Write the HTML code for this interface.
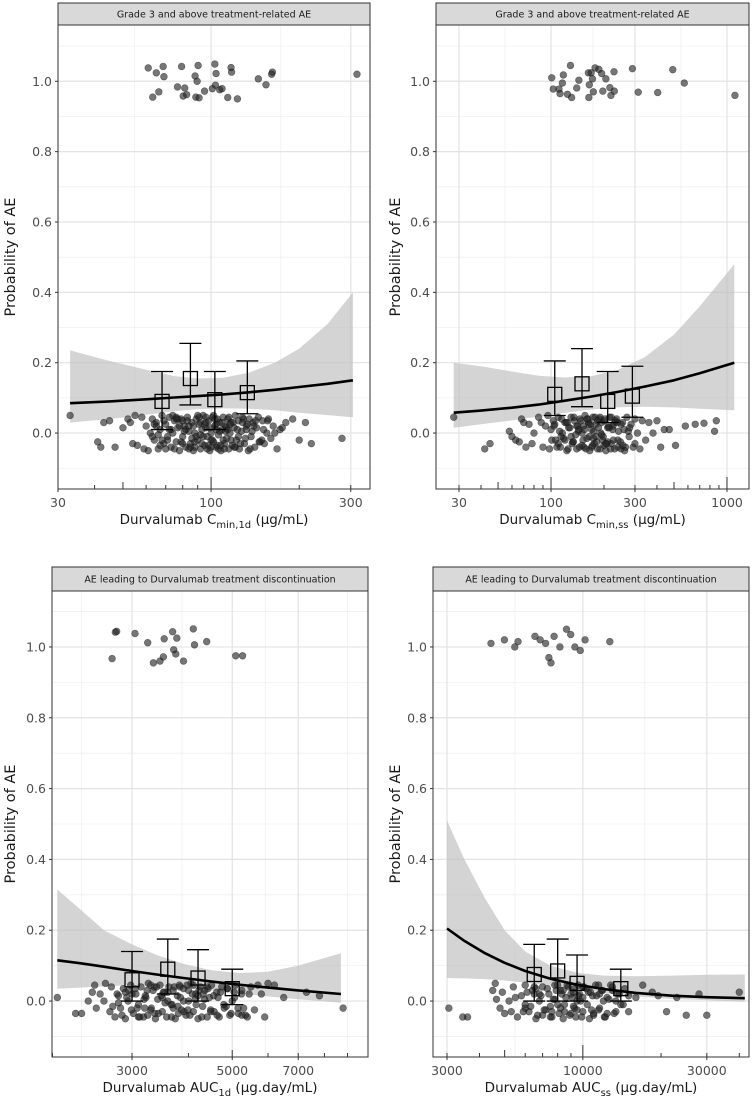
<!DOCTYPE html>
<html><head><meta charset="utf-8"><style>
html,body{margin:0;padding:0;background:#fff}
svg{display:block;font-family:"DejaVu Sans","Liberation Sans",sans-serif}
</style></head><body>
<svg id="c" width="752" height="1098" viewBox="0 0 752 1098"></svg>
<script>
// ---------- data ----------
// Panel A: Grade 3+ AE vs Cmin,1d
const aEvX=[61,65,68.6,69,79.3,76.8,81.3,63.2,66.3,80.3,82.5,88.7,91,88.2,89.6,90.3,95,101,103,104,103.5,107,109,114,117,117.5,123,145,154,162,161,315];
const aEvY=[1.038,1.024,1.042,1.013,1.042,0.984,0.981,0.955,0.97,0.958,0.962,0.955,0.953,1.015,1.0,1.045,0.972,0.979,1.049,1.022,0.989,0.976,0.979,0.954,1.039,1.026,0.95,1.007,0.99,1.026,1.02,1.02];
const aNoX=[33,41,42,43,45,47,50,52,53,54,55,56,58,59,60,61,62,63,64,65,66,67,68,69,70,71,72,73,74,75,76,77,78,79,80,81,82,83,84,85,86,87,88,89,90,91,92,93,94,95,96,97,98,99,100,101,102,103,104,105,106,107,108,109,110,111,112,113,114,115,116,117,118,120,121,122,124,125,127,128,130,132,134,135,137,139,141,143,145,147,150,152,155,157,160,163,168,172,180,190,200,210,220,280,70,74,78,82,86,90,94,98,102,106,110,114,80,88,96,104,92,84,76,100,
 63,65,67,69,71,73,75,77,79,81,83,85,87,89,91,93,95,97,99,101,103,105,107,109,111,113,115,117,119,121,123,126,129,131,133,136,138,142,146,151,
 64,66,68,72,76,80,84,88,92,96,100,104,108,112,116,120,124,128,132,140,149,156,165,175];
const aNoY=[.05,-.025,-.04,.03,.035,-.04,.015,.04,.03,-.03,.05,-.035,.045,-.045,.02,-.05,0,.04,-.02,.03,-.045,.01,.05,-.03,.025,-.01,.045,-.04,0,.035,-.025,.015,-.05,.04,-.01,.02,-.04,.045,.005,-.03,.03,-.05,0,.04,-.02,.025,-.045,.01,.05,-.035,.015,-.01,.035,-.05,0,.045,-.025,.02,-.04,.04,-.005,.03,-.05,.01,.045,-.03,.02,-.015,.04,-.045,0,.03,-.035,.015,.05,-.02,.035,-.045,.005,.045,-.03,.02,-.05,.04,-.01,.03,-.04,.015,.045,-.025,.035,-.03,0,.04,-.015,.02,-.045,.01,.03,.04,-.02,.03,-.03,-.015,-.045,.05,.02,.01,-.015,.05,-.01,-.035,.05,-.045,-.02,.01,.035,-.04,.045,.025,.03,-.045,.045,-.02,
 -.01,.02,-.035,.035,-.02,.01,-.045,.04,-.025,.005,.035,-.04,.02,-.01,.045,-.03,.025,-.045,.015,-.02,.04,-.035,.005,.03,-.045,.015,.045,-.02,.03,-.04,.01,-.03,.04,-.015,.025,-.045,.005,.035,-.025,.01,
 .025,-.005,-.02,.01,.04,-.03,.02,-.025,-.005,.03,-.04,.01,-.035,.005,.025,-.04,-.01,.03,.01,.02,-.02,.035,.0,.015];
const aFitX=[33,45,60,75,90,110,135,165,200,250,305];
const aFit=[0.085,0.090,0.096,0.101,0.105,0.110,0.116,0.123,0.131,0.140,0.150];
const aLo=[0.03,0.04,0.052,0.062,0.068,0.07,0.069,0.065,0.058,0.051,0.045];
const aHi=[0.235,0.205,0.18,0.162,0.155,0.157,0.172,0.2,0.24,0.31,0.40];
const aBinX=[68,85,103,133];
const aBinM=[0.09,0.155,0.095,0.115];
const aBinLo=[0.01,0.08,0.01,0.055];
const aBinHi=[0.175,0.255,0.175,0.205];

// Panel B: Grade 3+ AE vs Cmin,ss
const bEvX=[100.9,103,111,112.5,116,117.5,124,129,131,140,144,163,165,169,172,164,174,178,187,194,197,205,216,219,229,228,290,313,404,492,572,1110];
const bEvY=[1.01,0.978,0.978,0.965,0.995,1.018,0.963,1.045,0.954,0.981,1.003,1.024,0.99,1.024,1.007,0.954,0.97,1.038,1.034,1.022,0.972,1.007,0.982,0.96,0.972,1.027,1.036,0.969,0.968,1.033,0.995,0.96];
const bNoX=[28,42,45,58,60,63,66,68,70,72,75,78,80,85,88,90,93,96,98,100,103,106,110,113,116,120,123,126,130,133,136,140,143,146,150,153,156,160,163,166,170,173,176,180,184,188,192,196,200,205,210,215,220,225,230,236,242,248,255,262,270,278,285,293,300,310,320,330,345,360,380,400,420,440,470,510,580,660,740,850,870,120,140,160,180,200,220,240,260,150,170,190,210,230,250,130,110,
 101,105,108,112,115,118,122,125,128,132,135,138,142,145,148,152,155,158,162,165,168,172,175,178,182,186,190,194,198,202,207,212,218,224,232,240,250,265,280,300,
 104,114,124,134,144,154,164,174,184,194,204,214,226,238,256,275];
const bNoY=[.045,-.045,-.03,.005,-.01,-.02,-.025,.04,.03,-.04,.025,-.03,0,.045,.03,-.04,.02,.05,-.045,.01,.035,-.02,.045,-.04,0,.03,-.05,.015,.045,-.025,.035,-.045,.005,.04,-.035,.02,.05,-.015,.03,-.05,.01,.045,-.03,.025,-.045,.04,0,-.02,.035,-.05,.015,.045,-.03,.02,-.045,.04,.005,-.025,.03,-.05,.045,-.01,.025,-.04,.04,0,-.045,.035,-.02,.03,0,.035,-.04,.01,.01,-.035,.02,.025,.028,.005,.035,-.02,.02,.04,-.01,-.035,.045,-.04,.01,0,-.04,.045,-.025,.03,-.045,-.01,-.03,
 -.02,.025,-.04,.005,.04,-.015,.03,-.045,.015,-.03,.045,-.005,.02,-.04,.035,-.02,.01,-.045,.04,-.01,.025,-.035,.005,.045,-.025,.015,-.045,.03,-.01,.04,-.03,.02,-.045,.01,.035,-.02,.025,-.04,.015,-.03,
 .02,-.01,.03,-.025,.01,-.04,.025,-.015,.035,-.005,-.03,.015,-.02,.03,-.035,.005];
const bFitX=[28,40,60,85,120,170,240,340,500,700,1100];
const bFit=[0.058,0.064,0.072,0.081,0.092,0.104,0.117,0.132,0.15,0.17,0.20];
const bLo=[0.015,0.025,0.036,0.047,0.058,0.067,0.073,0.075,0.073,0.069,0.065];
const bHi=[0.20,0.19,0.175,0.163,0.158,0.162,0.18,0.215,0.28,0.36,0.48];
const bBinX=[105,150,210,290];
const bBinM=[0.11,0.14,0.09,0.105];
const bBinLo=[0.05,0.075,0.03,0.045];
const bBinHi=[0.205,0.24,0.175,0.19];

// Panel C: discontinuation AE vs AUC1d
const cEvX=[2774,2755,3046,3250,3535,3690,3770,4100,4125,4390,3710,3750,2710,3345,3460,3520,3900,5090,5270];
const cEvY=[1.044,1.042,1.038,1.012,1.023,1.043,1.025,1.051,1.006,1.015,0.992,0.98,0.967,0.955,0.96,0.972,0.96,0.975,0.975];
const cNoX=[2050,2250,2320,2400,2450,2480,2500,2550,2600,2620,2680,2700,2750,2800,2830,2870,2900,2940,2980,3020,3060,3100,3140,3180,3220,3260,3300,3340,3380,3420,3460,3500,3540,3580,3620,3660,3700,3740,3780,3820,3860,3900,3950,4000,4050,4100,4150,4200,4250,4300,4350,4400,4450,4500,4560,4620,4680,4740,4800,4870,4940,5000,5080,5160,5240,5300,5400,5500,5600,5700,5800,5900,6000,6200,6500,7300,7800,8800,3000,3200,3400,3600,3800,4000,4200,4400,3100,3300,3500,3700,3900,4100,2900,3250,
 2720,2780,2850,2920,2990,3050,3120,3190,3240,3310,3360,3430,3480,3550,3600,3670,3720,3790,3840,3910,3970,4030,4080,4160,4220,4280,4340,4420,4480,4550,4630,4710,4790,4880,4970,5060,5150,5250,5350,5450,
 2800,2950,3080,3210,3370,3520,3680,3830,3990,4140,4310,4480,4650,4850,5050,5250];
const cNoY=[.01,-.035,-.035,0,.025,.045,-.02,.02,0,.05,-.03,.04,-.045,.015,-.02,.035,-.05,0,.045,-.035,.02,-.01,.04,-.045,.01,.05,-.025,.03,-.05,.005,.045,-.03,.025,-.045,.04,-.01,.03,-.05,.015,.045,-.025,.035,-.04,0,.05,-.03,.02,-.05,.04,-.015,.03,-.045,.01,.045,-.03,.025,-.045,.04,-.02,.035,-.04,0,.045,-.035,.02,-.02,-.045,.04,-.025,.045,.02,-.045,.05,.045,.01,.025,.015,-.02,.02,-.02,.04,0,-.035,.03,.015,.04,-.045,.045,.01,-.02,0,.045,.025,-.04,
 -.015,.02,-.04,.01,-.025,.035,-.045,.005,.03,-.02,.04,-.035,.015,-.005,.025,-.045,.04,-.015,.01,-.03,.045,-.04,.02,-.01,.03,-.045,.005,.035,-.025,.015,-.04,.025,-.01,.035,-.035,.01,-.02,.03,-.04,.02,
 -.005,.03,-.02,.015,-.035,.025,-.01,.04,-.025,.005,.02,-.03,.01,-.015,.025,-.04];
const cFitX=[2050,2300,2600,3000,3400,3900,4500,5200,6000,7000,8700];
const cFit=[0.115,0.107,0.097,0.085,0.075,0.065,0.055,0.046,0.038,0.030,0.02];
const cLo=[0.035,0.038,0.042,0.045,0.043,0.037,0.03,0.021,0.013,0.005,-0.005];
const cHi=[0.315,0.26,0.2,0.16,0.13,0.105,0.087,0.079,0.083,0.1,0.135];
const cBinX=[3000,3600,4200,5000];
const cBinM=[0.06,0.09,0.065,0.035];
const cBinLo=[0.0,0.02,0.0,-0.01];
const cBinHi=[0.14,0.175,0.145,0.09];

// Panel D: discontinuation AE vs AUCss
const dEvX=[4430,4990,5470,5630,6540,6850,7190,7400,7540,7750,8160,8650,8980,9320,9770,10200,12700];
const dEvY=[1.01,1.02,1.0,1.015,1.03,1.02,1.01,0.97,0.955,1.03,1.0,1.05,1.035,1.0,0.99,1.02,1.015];
const dNoX=[3050,3450,3600,4500,4600,4650,4800,4900,5000,5200,5400,5600,5800,6000,6200,6400,6600,6800,7000,7200,7400,7600,7800,8000,8200,8400,8600,8800,9000,9200,9400,9600,9800,10000,10300,10600,10900,11200,11500,11800,12100,12400,12800,13200,13600,14000,14500,15000,16000,17000,18500,19500,21000,23000,25000,28000,30000,40000,7000,8000,9000,10000,11000,12000,6500,7500,8500,9500,10500,11500,6000,13000,7800,9300,
 5500,5900,6100,6300,6500,6700,6900,7100,7300,7500,7700,7900,8100,8300,8500,8700,8900,9100,9300,9500,9700,9900,10100,10400,10700,11000,11300,11600,11900,12200,12600,13000,13400,13800,14300,15000,5300,6600,8200,9600,
 6000,6800,7600,8400,9200,10000,10800,11600,12400,13400];
const dNoY=[-.02,-.045,-.045,.03,.05,.005,-.02,.025,-.035,0,.04,-.045,.015,.045,-.03,.03,-.05,0,.04,-.025,.02,-.045,.045,-.01,.03,-.05,.01,.04,-.035,.025,-.045,.045,0,-.03,.035,-.05,.015,.045,-.025,.03,-.045,.01,.045,-.035,.02,-.01,.035,-.03,.01,.045,.025,.015,-.03,.01,-.04,.02,-.04,.025,-.04,.045,.02,.04,-.04,0,.02,-.015,-.03,0,.025,.045,-.02,.03,.005,-.02,
 .01,-.03,.025,-.015,.04,-.04,.015,-.025,.035,-.045,.005,.03,-.035,.02,-.01,.045,-.04,.01,.035,-.025,.02,-.045,.04,-.01,.025,-.035,.015,-.02,.03,-.045,.005,.04,-.03,.02,-.01,.015,-.03,.035,-.02,.015,
 -.01,.02,-.03,.03,-.015,.01,-.025,.02,-.035,.0];
const dFitX=[3000,3500,4200,5000,6000,7500,9500,12000,16000,22000,30000,42000];
const dFit=[0.205,0.17,0.135,0.108,0.085,0.063,0.046,0.034,0.023,0.015,0.011,0.008];
const dLo=[0.065,0.064,0.062,0.058,0.052,0.043,0.033,0.023,0.013,0.006,0.002,-0.002];
const dHi=[0.51,0.40,0.29,0.2,0.14,0.1,0.08,0.072,0.07,0.072,0.074,0.075];
const dBinX=[6500,8000,9500,14000];
const dBinM=[0.075,0.085,0.05,0.035];
const dBinLo=[0.0,0.0,0.0,0.0];
const dBinHi=[0.16,0.175,0.13,0.09];

const yTicks=[0,0.2,0.4,0.6,0.8,1.0];
const yTickLabels=["0.0","0.2","0.4","0.6","0.8","1.0"];
const yMinor=[-0.1,0.1,0.3,0.5,0.7,0.9,1.1];
const aBreaks=[30,100,300], aLabels=["30","100","300"], aMinor=[54.8,173];
const bBreaks=[30,100,300,1000], bLabels=["30","100","300","1000"], bMinor=[54.8,173,548];
const cBreaks=[3000,5000,7000], cLabels=["3000","5000","7000"], cMinor=[2320,3870,5920,9000];
const dBreaks=[3000,10000,30000], dLabels=["3000","10000","30000"], dMinor=[1643,5477,17320];

// ---------- drawing ----------
const NS="http://www.w3.org/2000/svg";
const svg=document.getElementById('c');
function el(tag,attrs,parent){const e=document.createElementNS(NS,tag);for(const k in attrs)e.setAttribute(k,attrs[k]);(parent||svg).appendChild(e);return e;}

function panel(p){
  const g=el('g',{});
  
  
  const lx0=Math.log10(p.xmin),lx1=Math.log10(p.xmax);
  const X=v=>p.x0+(Math.log10(v)-lx0)/(lx1-lx0)*(p.x1-p.x0);
  const Y=v=>p.y1-(v-p.ymin)/(p.ymax-p.ymin)*(p.y1-p.y0);
  const st=el('rect',{x:p.x0,y:p.sy,width:p.x1-p.x0,height:p.y0-p.sy,fill:'#d9d9d9',stroke:'#333','stroke-width':1},g);
  
  
  const stt=el('text',{x:(p.x0+p.x1)/2,y:p.sy+(p.y0-p.sy)/2+3.5,'text-anchor':'middle','font-size':9.5,fill:'#1a1a1a'},g);
  stt.textContent=p.strip;
  
  
  const cp='clip'+p.id;
  const cl=el('clipPath',{id:cp},g); el('rect',{x:p.x0,y:p.y0,width:p.x1-p.x0,height:p.y1-p.y0},cl);
  const pg=el('g',{'clip-path':'url(#'+cp+')'},g);
  yMinor.forEach(v=>el('line',{x1:p.x0,x2:p.x1,y1:Y(v),y2:Y(v),stroke:'#f0f0f0','stroke-width':0.8},pg));
  p.minor.forEach(v=>el('line',{x1:X(v),x2:X(v),y1:p.y0,y2:p.y1,stroke:'#f0f0f0','stroke-width':0.8},pg));
  yTicks.forEach(v=>el('line',{x1:p.x0,x2:p.x1,y1:Y(v),y2:Y(v),stroke:'#e3e3e3','stroke-width':1.2},pg));
  p.breaks.forEach(v=>el('line',{x1:X(v),x2:X(v),y1:p.y0,y2:p.y1,stroke:'#e3e3e3','stroke-width':1.2},pg));
  let d='';
  p.fx.forEach((v,i)=>{d+=(i?'L':'M')+X(v).toFixed(1)+','+Y(p.hi[i]).toFixed(1);});
  for(let i=p.fx.length-1;i>=0;i--) d+='L'+X(p.fx[i]).toFixed(1)+','+Y(p.lo[i]).toFixed(1);
  const rb=el('path',{d:d+'Z',fill:'#bdbdbd','fill-opacity':0.65},pg);
  
  
  const drawPts=(xs,ys,nm)=>xs.forEach((v,i)=>{
    const c=el('circle',{cx:X(v),cy:Y(ys[i]),r:3.4,fill:'#222','fill-opacity':0.62,stroke:'#111','stroke-opacity':0.5,'stroke-width':0.6},pg);
    
    
  });
  drawPts(p.nx,p.ny,'no-event-point');
  drawPts(p.ex,p.ey,'event-point');
  let ld='';
  p.fx.forEach((v,i)=>{ld+=(i?'L':'M')+X(v).toFixed(1)+','+Y(p.fit[i]).toFixed(1);});
  const fl=el('path',{d:ld,fill:'none',stroke:'#000','stroke-width':2.6,'stroke-linejoin':'round'},pg);
  
  
  p.bx.forEach((v,i)=>{
    const bg=el('g',{fill:'none',stroke:'#000','stroke-width':1.3},pg);
    
    
    const cx=X(v);
    el('line',{x1:cx,x2:cx,y1:Y(p.blo[i]),y2:Y(p.bhi[i])},bg);
    el('line',{x1:cx-11,x2:cx+11,y1:Y(p.blo[i]),y2:Y(p.blo[i])},bg);
    el('line',{x1:cx-11,x2:cx+11,y1:Y(p.bhi[i]),y2:Y(p.bhi[i])},bg);
    el('rect',{x:cx-7,y:Y(p.bm[i])-7,width:14,height:14,fill:'none'},bg);
  });
  const lk0=Math.floor(lx0),lk1=Math.ceil(lx1);
  for(let k=lk0;k<=lk1;k++)for(let m=1;m<10;m++){
    const v=m*Math.pow(10,k); if(v<p.xmin||v>p.xmax)continue;
    const len=m===1?12:(m===5?7:4);
    el('line',{x1:X(v),x2:X(v),y1:p.y1,y2:p.y1-len,stroke:'#333','stroke-width':1},g);
  }
  const bd=el('rect',{x:p.x0,y:p.y0,width:p.x1-p.x0,height:p.y1-p.y0,fill:'none',stroke:'#333','stroke-width':1},g);
  
  
  yTicks.forEach((v,i)=>{
    el('line',{x1:p.x0-3,x2:p.x0,y1:Y(v),y2:Y(v),stroke:'#333'},g);
    const t=el('text',{x:p.x0-6,y:Y(v)+4.5,'text-anchor':'end','font-size':12.5,fill:'#4d4d4d'},g);
    t.textContent=yTickLabels[i];
    
    
  });
  p.breaks.forEach((v,i)=>{
    el('line',{x1:X(v),x2:X(v),y1:p.y1,y2:p.y1+3,stroke:'#333'},g);
    const t=el('text',{x:X(v),y:p.y1+18,'text-anchor':'middle','font-size':12.5,fill:'#4d4d4d'},g);
    t.textContent=p.labels[i];
    
    
  });
  const yt=el('text',{x:p.ytx,y:(p.y0+p.y1)/2,'text-anchor':'middle','font-size':14.5,fill:'#1a1a1a',transform:'rotate(-90 '+p.ytx+' '+(p.y0+p.y1)/2+')'},g);
  yt.textContent='Probability of AE';
  
  
  const xt=el('text',{x:(p.x0+p.x1)/2,y:p.y1+35,'text-anchor':'middle','font-size':13.5,fill:'#1a1a1a'},g);
  
  
  const t1=el('tspan',{},xt); t1.textContent=p.xt[0];
  const t2=el('tspan',{dy:4,'font-size':10},xt); t2.textContent=p.xt[1];
  const t3=el('tspan',{dy:-4},xt); t3.textContent=p.xt[2];
}

panel({id:'a',name:'panel-grade3-cmin-1d',x0:58,x1:370,y0:25,y1:489,sy:3,xmin:30,xmax:349,ymin:-0.159,ymax:1.16,ytx:15,
 strip:'Grade 3 and above treatment-related AE',breaks:aBreaks,labels:aLabels,minor:aMinor,
 ex:aEvX,ey:aEvY,nx:aNoX,ny:aNoY,fx:aFitX,fit:aFit,lo:aLo,hi:aHi,bx:aBinX,bm:aBinM,blo:aBinLo,bhi:aBinHi,
 xt:['Durvalumab C','min,1d',' (µg/mL)']});
panel({id:'b',name:'panel-grade3-cmin-ss',x0:436,x1:749,y0:25,y1:489,sy:3,xmin:22.2,xmax:1334,ymin:-0.159,ymax:1.16,ytx:400,
 strip:'Grade 3 and above treatment-related AE',breaks:bBreaks,labels:bLabels,minor:bMinor,
 ex:bEvX,ey:bEvY,nx:bNoX,ny:bNoY,fx:bFitX,fit:bFit,lo:bLo,hi:bHi,bx:bBinX,bm:bBinM,blo:bBinLo,bhi:bBinHi,
 xt:['Durvalumab C','min,ss',' (µg/mL)']});
panel({id:'c',name:'panel-discontinuation-auc-1d',x0:52,x1:368,y0:591,y1:1057,sy:567,xmin:1995,xmax:9990,ymin:-0.158,ymax:1.158,ytx:15,
 strip:'AE leading to Durvalumab treatment discontinuation',breaks:cBreaks,labels:cLabels,minor:cMinor,
 ex:cEvX,ey:cEvY,nx:cNoX,ny:cNoY,fx:cFitX,fit:cFit,lo:cLo,hi:cHi,bx:cBinX,bm:cBinM,blo:cBinLo,bhi:cBinHi,
 xt:['Durvalumab AUC','1d',' (µg.day/mL)']});
panel({id:'d',name:'panel-discontinuation-auc-ss',x0:433,x1:749,y0:591,y1:1057,sy:567,xmin:2650,xmax:43600,ymin:-0.158,ymax:1.158,ytx:400,
 strip:'AE leading to Durvalumab treatment discontinuation',breaks:dBreaks,labels:dLabels,minor:dMinor,
 ex:dEvX,ey:dEvY,nx:dNoX,ny:dNoY,fx:dFitX,fit:dFit,lo:dLo,hi:dHi,bx:dBinX,bm:dBinM,blo:dBinLo,bhi:dBinHi,
 xt:['Durvalumab AUC','ss',' (µg.day/mL)']});
</script>
</body></html>
